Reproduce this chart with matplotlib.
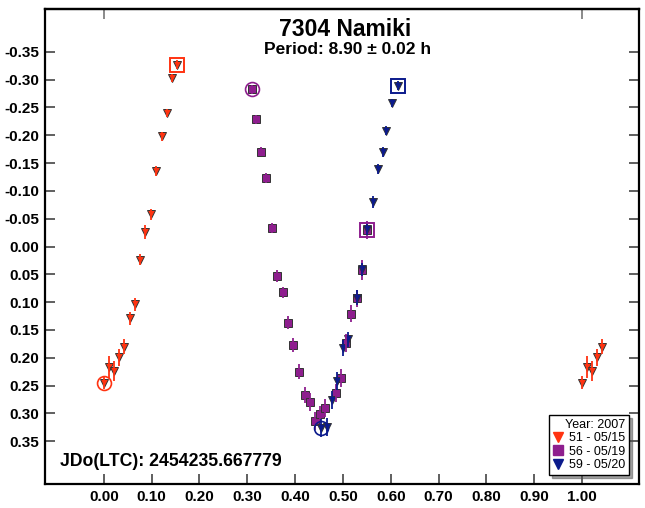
import matplotlib
matplotlib.use("Agg")
import matplotlib.pyplot as plt
from matplotlib.lines import Line2D
import numpy as np

plt.rcParams['font.family'] = ['Liberation Sans', 'DejaVu Sans']

# ---- data (phase, magnitude, error) ----
s51_phase = [0.000, 0.010, 0.021, 0.031, 0.042, 0.054, 0.065, 0.076, 0.087, 0.098,
             0.109, 0.121, 0.132, 0.143, 0.154]
s51_mag = [0.245, 0.216, 0.223, 0.199, 0.180, 0.129, 0.104, 0.024, -0.026, -0.058,
           -0.135, -0.198, -0.240, -0.303, -0.327]
s51_err = [0.012, 0.020, 0.018, 0.015, 0.014, 0.012, 0.012, 0.010, 0.012, 0.010,
           0.009, 0.008, 0.008, 0.008, 0.008]

s56_phase = [0.309, 0.318, 0.329, 0.340, 0.351, 0.363, 0.375, 0.385, 0.396, 0.408,
             0.420, 0.431, 0.441, 0.452, 0.463, 0.485, 0.495, 0.506, 0.517, 0.529,
             0.540, 0.551]
s56_mag = [-0.283, -0.229, -0.170, -0.123, -0.033, 0.053, 0.082, 0.137, 0.177, 0.225,
           0.267, 0.279, 0.314, 0.302, 0.290, 0.264, 0.237, 0.173, 0.121, 0.093,
           0.042, -0.030]
s56_err = [0.008, 0.008, 0.008, 0.009, 0.009, 0.010, 0.010, 0.012, 0.012, 0.013,
           0.015, 0.016, 0.016, 0.016, 0.016, 0.016, 0.016, 0.016, 0.015, 0.015,
           0.018, 0.016]

s59_phase = [0.455, 0.467, 0.478, 0.488, 0.500, 0.510, 0.529, 0.540, 0.551, 0.562,
             0.573, 0.584, 0.591, 0.603, 0.615]
s59_mag = [0.327, 0.325, 0.276, 0.242, 0.182, 0.167, 0.092, 0.041, -0.032, -0.080,
           -0.140, -0.170, -0.208, -0.258, -0.289]
s59_err = [0.016, 0.016, 0.016, 0.016, 0.014, 0.014, 0.013, 0.012, 0.012, 0.010,
           0.009, 0.009, 0.008, 0.008, 0.008]

series_labels = ["51 - 05/15", "56 - 05/19", "59 - 05/20"]
series_colors = ["#FF3311", "#8E1E8E", "#0B1A8C"]
series_markers = ["v", "s", "v"]

x_ticks = [0.0, 0.1, 0.2, 0.3, 0.4, 0.5, 0.6, 0.7, 0.8, 0.9, 1.0]
y_ticks = [-0.35, -0.30, -0.25, -0.20, -0.15, -0.10, -0.05, 0.00, 0.05, 0.10,
           0.15, 0.20, 0.25, 0.30, 0.35]

fig = plt.figure(figsize=(6.45, 5.08), dpi=100)
ax = fig.add_axes([45/645, 24/508, 594/645, 475/508])

datasets = [(s51_phase, s51_mag, s51_err), (s56_phase, s56_mag, s56_err),
            (s59_phase, s59_mag, s59_err)]

for (ph, mg, er), col, mk in zip(datasets, series_colors, series_markers):
    ph = np.array(ph); mg = np.array(mg); er = np.array(er)
    # wrap early phases beyond 1.0
    wrap = ph < 0.05
    allp = np.concatenate([ph, ph[wrap] + 1.0])
    allm = np.concatenate([mg, mg[wrap]])
    alle = np.concatenate([er, er[wrap]])
    ms = 6.4 if mk == "v" else 5.8
    ax.plot(allp, allm, linestyle="none", marker=mk, ms=ms, mfc=col,
            mec="#333333", mew=0.7, zorder=3)
    ax.errorbar(allp, allm, yerr=alle, fmt="none", ecolor=col, elinewidth=1.3,
                capsize=0, zorder=4)
    # first point circled, last boxed
    ax.plot(ph[0], mg[0], linestyle="none", marker="o", ms=10, mfc="none",
            mec=col, mew=1.2, zorder=5)
    ax.plot(ph[-1], mg[-1], linestyle="none", marker="s", ms=10, mfc="none",
            mec=col, mew=1.4, zorder=5)

ax.set_xlim(-0.123, 1.119)
ax.set_ylim(0.427, -0.427)

ax.set_xticks(x_ticks)
ax.set_xticklabels([f"{v:.2f}" for v in x_ticks])
ax.set_yticks(y_ticks)
ax.set_yticklabels([f"{v:.2f}" for v in y_ticks])
ax.tick_params(axis="both", direction="in", length=7, width=1.2, color="#444444",
               labelsize=11, pad=4)
ax.tick_params(axis="y", right=True)
for lab in ax.get_xticklabels() + ax.get_yticklabels():
    lab.set_fontweight("bold")

sec = ax.secondary_xaxis("top")
sec.set_xticks([0.0, 1.0])
sec.set_xticklabels(["", ""])
sec.tick_params(direction="in", length=7, width=1.2, color="#777777")
sec.spines["top"].set_linewidth(1.6)

for sp in ax.spines.values():
    sp.set_linewidth(1.6)
    sp.set_color("black")

ax.text(0.505, 0.956, "7304 Namiki", transform=ax.transAxes, ha="center", va="center",
        fontsize=16.5, fontweight="bold")
ax.text(0.51, 0.914, "Period: 8.90 \u00b1 0.02 h", transform=ax.transAxes,
        ha="center", va="center", fontsize=12.5, fontweight="bold")
ax.text(0.025, 0.047, "JDo(LTC): 2454235.667779", transform=ax.transAxes,
        ha="left", va="center", fontsize=12.7, fontweight="bold")

handles = [Line2D([], [], linestyle="none", marker=m, ms=7, mfc=c, mec=c)
           for m, c in zip(series_markers, series_colors)]
leg = ax.legend(handles, series_labels, title="Year: 2007", loc="lower right",
                bbox_to_anchor=(0.983, 0.019), fontsize=9, title_fontsize=9,
                frameon=True, fancybox=False, shadow=True, borderpad=0.3,
                handlelength=0.8, handletextpad=0.5, labelspacing=0.12,
                borderaxespad=0.0, alignment="right")
leg.get_frame().set_edgecolor("black")
leg.get_frame().set_linewidth(1.0)

fig.savefig("out.png", dpi=100)
